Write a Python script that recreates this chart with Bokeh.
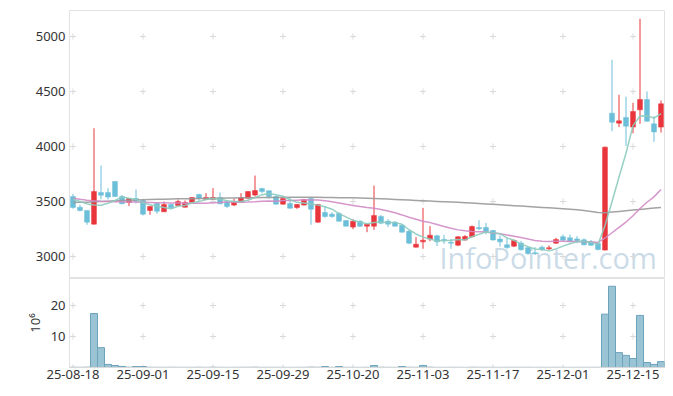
from bokeh.plotting import figure
from bokeh.layouts import column
from bokeh.models import Range1d, FixedTicker, Label, ColumnDataSource
from bokeh.embed import file_html
from bokeh.resources import INLINE

# ---- data (trading-day index 0..84, 2025-08-18 .. 2025-12-19) ----
opens = [3545, 3448, 3418, 3294, 3582, 3582, 3682, 3545, 3491, 3527,
         3509, 3418, 3482, 3406, 3473, 3464, 3448, 3491, 3564, 3518,
         3518, 3536, 3495, 3467, 3494, 3530, 3558, 3618, 3597, 3545,
         3476, 3482, 3445, 3467, 3527, 3312, 3400, 3385, 3391, 3327,
         3267, 3321, 3276, 3276, 3364, 3321, 3312, 3285, 3230, 3085,
         3133, 3158, 3188, 3155, 3130, 3103, 3149, 3179, 3264, 3264,
         3236, 3158, 3106, 3094, 3122, 3080, 3035, 3085, 3070, 3121,
         3179, 3170, 3160, 3152, 3133, 3118, 3058, 4303, 4212, 4264,
         4176, 4333, 4427, 4206, 4176]
highs = [3570, 3470, 3420, 4166, 3827, 3621, 3685, 3560, 3530, 3609,
         3512, 3458, 3485, 3500, 3480, 3518, 3509, 3540, 3570, 3576,
         3621, 3582, 3510, 3527, 3576, 3595, 3736, 3625, 3600, 3555,
         3545, 3536, 3476, 3525, 3536, 3476, 3458, 3403, 3403, 3330,
         3339, 3330, 3300, 3645, 3376, 3339, 3321, 3294, 3236, 3176,
         3442, 3276, 3197, 3197, 3160, 3185, 3194, 3282, 3330, 3305,
         3240, 3191, 3170, 3155, 3140, 3095, 3085, 3100, 3100, 3170,
         3200, 3200, 3185, 3165, 3150, 3125, 4000, 4788, 4470, 4452,
         4398, 5161, 4500, 4276, 4418]
lows = [3435, 3410, 3288, 3290, 3520, 3518, 3542, 3477, 3458, 3482,
        3373, 3379, 3388, 3405, 3436, 3460, 3445, 3485, 3503, 3512,
        3515, 3476, 3440, 3458, 3490, 3527, 3545, 3576, 3527, 3473,
        3473, 3436, 3433, 3464, 3288, 3306, 3352, 3352, 3318, 3273,
        3248, 3267, 3221, 3242, 3294, 3267, 3273, 3218, 3112, 3082,
        3070, 3139, 3095, 3115, 3070, 3094, 3145, 3176, 3240, 3200,
        3145, 3091, 3070, 3085, 3055, 3015, 3015, 3050, 3060, 3115,
        3140, 3130, 3120, 3100, 3095, 3055, 3055, 4139, 4176, 4005,
        4120, 4206, 4225, 4042, 4127]
closes = [3445, 3418, 3312, 3591, 3557, 3540, 3545, 3479, 3527, 3503,
          3385, 3455, 3412, 3473, 3442, 3500, 3491, 3536, 3527, 3536,
          3536, 3479, 3455, 3497, 3533, 3591, 3600, 3591, 3545, 3476,
          3527, 3439, 3473, 3518, 3430, 3473, 3364, 3364, 3321, 3276,
          3321, 3276, 3294, 3373, 3303, 3294, 3276, 3221, 3121, 3112,
          3148, 3194, 3133, 3142, 3120, 3179, 3182, 3273, 3252, 3227,
          3150, 3133, 3082, 3145, 3061, 3027, 3025, 3062, 3080, 3155,
          3148, 3138, 3142, 3106, 3102, 3064, 3994, 4221, 4233, 4185,
          4318, 4427, 4230, 4132, 4388]
ma5 = [3520, 3500, 3478, 3468, 3465, 3484, 3509, 3542, 3530, 3519,
       3488, 3470, 3456, 3446, 3433, 3456, 3464, 3488, 3499, 3518,
       3525, 3523, 3507, 3501, 3500, 3511, 3535, 3562, 3572, 3561,
       3548, 3516, 3492, 3487, 3477, 3467, 3452, 3430, 3390, 3360,
       3329, 3312, 3298, 3308, 3313, 3308, 3308, 3293, 3243, 3205,
       3176, 3159, 3142, 3146, 3147, 3154, 3151, 3179, 3201, 3223,
       3217, 3207, 3169, 3147, 3114, 3090, 3068, 3064, 3051, 3069,
       3094, 3116, 3133, 3138, 3127, 3110, 3282, 3497, 3723, 3939,
       4190, 4277, 4279, 4258, 4299]
ma20 = [3530, 3520, 3512, 3506, 3502, 3500, 3498, 3497, 3496, 3495,
        3493, 3491, 3489, 3488, 3487, 3486, 3485, 3485, 3484, 3484,
        3488, 3491, 3498, 3494, 3493, 3495, 3498, 3503, 3504, 3503,
        3510, 3509, 3512, 3515, 3514, 3513, 3506, 3498, 3487, 3474,
        3464, 3454, 3445, 3439, 3428, 3413, 3397, 3378, 3357, 3339,
        3320, 3308, 3291, 3272, 3256, 3242, 3233, 3228, 3225, 3222,
        3214, 3206, 3196, 3184, 3172, 3159, 3146, 3138, 3136, 3138,
        3138, 3136, 3136, 3134, 3133, 3128, 3168, 3216, 3265, 3313,
        3371, 3436, 3493, 3542, 3609]
ma_long = [3490, 3492, 3494, 3497, 3500, 3503, 3506, 3509, 3512, 3514,
           3516, 3518, 3520, 3521, 3523, 3524, 3525, 3526, 3527, 3528,
           3529, 3530, 3531, 3532, 3533, 3534, 3535, 3536, 3537, 3537,
           3538, 3538, 3538, 3538, 3538, 3538, 3537, 3536, 3535, 3534,
           3533, 3531, 3529, 3527, 3525, 3522, 3519, 3516, 3513, 3510,
           3507, 3504, 3501, 3498, 3495, 3492, 3489, 3486, 3482, 3478,
           3474, 3470, 3466, 3462, 3458, 3454, 3450, 3446, 3442, 3438,
           3434, 3429, 3424, 3418, 3410, 3400, 3398, 3404, 3410, 3416,
           3422, 3428, 3434, 3440, 3446]
volume_m = [0.08, 0.06, 0.10, 17.4, 6.4, 1.0, 0.65, 0.35, 0.10, 0.30,
            0.30, 0.08, 0.06, 0.05, 0.07, 0.05, 0.06, 0.05, 0.08, 0.05,
            0.09, 0.05, 0.04, 0.05, 0.06, 0.07, 0.10, 0.05, 0.05, 0.06,
            0.05, 0.04, 0.05, 0.06, 0.12, 0.08, 0.30, 0.06, 0.30, 0.05,
            0.05, 0.04, 0.06, 0.65, 0.08, 0.05, 0.05, 0.30, 0.08, 0.06,
            0.65, 0.10, 0.05, 0.04, 0.06, 0.05, 0.04, 0.08, 0.06, 0.05,
            0.05, 0.04, 0.06, 0.05, 0.05, 0.06, 0.04, 0.05, 0.04, 0.06,
            0.05, 0.04, 0.05, 0.04, 0.05, 0.06, 17.2, 26.2, 4.8, 3.9,
            2.9, 16.8, 1.6, 1.0, 1.9]
tick_pos = [0, 10, 20, 30, 40, 50, 60, 70, 80]
tick_labels = ["25-08-18", "25-09-01", "25-09-15", "25-09-29", "25-10-20",
               "25-11-03", "25-11-17", "25-12-01", "25-12-15"]
price_ticks = [3000, 3500, 4000, 4500, 5000]
vol_ticks = [10, 20]

# ---- styling ----
FONT = "Noto Sans"
UP = "#e8363c"
DOWN = "#6cbfd9"
FRAME = "#e2e2e2"
CROSS = "#d9d9d9"
LABEL = "#333333"

n = len(closes)
xs = list(range(n))
colors = [UP if c >= o else DOWN for o, c in zip(opens, closes)]
src = ColumnDataSource(dict(
    x=xs, high=highs, low=lows,
    top=[max(o, c) for o, c in zip(opens, closes)],
    bottom=[min(o, c) for o, c in zip(opens, closes)],
    color=colors, vol=volume_m, ma5=ma5, ma20=ma20, mal=ma_long))

xr = Range1d(-0.5, n - 0.5)

p = figure(width=665, height=278, x_range=xr, y_range=Range1d(2800, 5236),
           output_backend="svg", toolbar_location=None,
           min_border_top=10, min_border_bottom=0,
           min_border_left=69, min_border_right=1)
p.xaxis.visible = False
p.xgrid.visible = False
p.ygrid.visible = False
p.outline_line_color = FRAME
p.background_fill_color = "white"
p.border_fill_color = "white"
p.yaxis.ticker = FixedTicker(ticks=price_ticks)
p.yaxis.axis_line_color = FRAME
p.yaxis.major_tick_line_color = None
p.yaxis.major_tick_out = 0
p.yaxis.minor_tick_line_color = None
p.yaxis.major_label_standoff = 4
p.yaxis.major_label_text_font = FONT
p.yaxis.major_label_text_font_size = "13px"
p.yaxis.major_label_text_color = LABEL

# grid "+" marks
gx = [tx for tx in tick_pos for _ in price_ticks]
gy = [ty for _ in tick_pos for ty in price_ticks]
p.scatter(x=gx, y=gy, marker="cross", size=6, line_color=CROSS, line_width=1)

wm = Label(x=n - 1.6, y=2990, text="InfoPointer.com", text_align="right",
           text_baseline="middle", text_font="Open Sans",
           text_font_size="29px", text_color="#b9cfdf", text_alpha=0.75,
           level="underlay")
p.add_layout(wm)

p.segment(x0="x", y0="low", x1="x", y1="high", color="color",
          line_width=1, source=src)
p.vbar(x="x", top="top", bottom="bottom", width=0.7, fill_color="color",
       line_color="color", line_width=0.5, source=src)

p.line(x="x", y="mal", line_color="#999999", line_width=1.5, line_alpha=0.9, source=src)
p.line(x="x", y="ma20", line_color="#d18bc6", line_width=1.5, line_alpha=0.9, source=src)
p.line(x="x", y="ma5", line_color="#8ccbbd", line_width=1.5, line_alpha=0.9, source=src)

# ---- volume panel ----
v = figure(width=665, height=110, x_range=xr, y_range=Range1d(0, 28.7),
           output_backend="svg", toolbar_location=None,
           min_border_top=0, min_border_bottom=21,
           min_border_left=69, min_border_right=1)
v.xgrid.visible = False
v.ygrid.visible = False
v.outline_line_color = FRAME
v.background_fill_color = "white"
v.border_fill_color = "white"

vx = [tx for tx in tick_pos for _ in [0] + vol_ticks]
vy = [ty for _ in tick_pos for ty in [0] + vol_ticks]
v.scatter(x=vx, y=vy, marker="cross", size=6, line_color=CROSS, line_width=1)

v.vbar(x="x", top="vol", bottom=0, width=1.0, fill_color="#8fbccf",
       fill_alpha=0.9, line_color="#6da4bd", line_width=1, source=src)

v.yaxis.ticker = FixedTicker(ticks=vol_ticks)
v.yaxis.axis_line_color = FRAME
v.yaxis.major_tick_line_color = None
v.yaxis.major_tick_out = 0
v.yaxis.minor_tick_line_color = None
v.yaxis.major_label_standoff = 4
v.yaxis.major_label_text_font = FONT
v.yaxis.major_label_text_font_size = "13px"
v.yaxis.major_label_text_color = LABEL
v.yaxis.axis_label = "10\u2076"
v.yaxis.axis_label_text_font = FONT
v.yaxis.axis_label_text_font_size = "13px"
v.yaxis.axis_label_text_font_style = "normal"
v.yaxis.axis_label_text_color = LABEL
v.yaxis.axis_label_standoff = 4

v.xaxis.ticker = FixedTicker(ticks=tick_pos)
v.xaxis.major_label_overrides = {t: s for t, s in zip(tick_pos, tick_labels)}
v.xaxis.axis_line_color = "#d8d8d8"
v.xaxis.major_tick_line_color = None
v.xaxis.major_tick_out = 0
v.xaxis.minor_tick_line_color = None
v.xaxis.major_label_standoff = 2
v.xaxis.major_label_text_font = FONT
v.xaxis.major_label_text_font_size = "13px"
v.xaxis.major_label_text_color = LABEL

layout = column(p, v, spacing=0)
open("out.html", "w").write(file_html(layout, INLINE))
